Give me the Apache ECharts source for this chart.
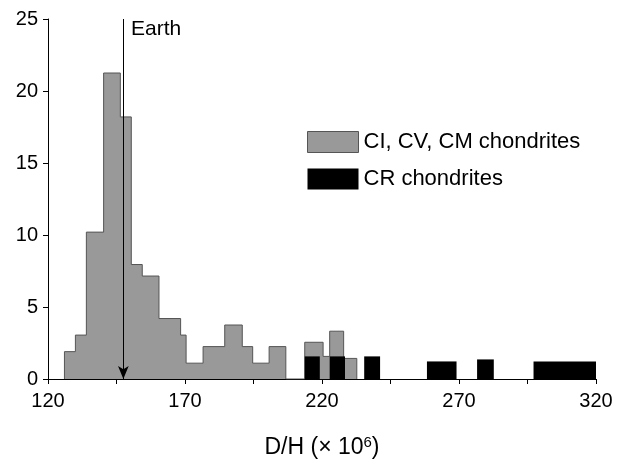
<!DOCTYPE html>
<html>
<head>
<meta charset="utf-8">
<script src="https://cdn.jsdelivr.net/npm/echarts@6/dist/echarts.min.js"></script>
<style>html,body{margin:0;padding:0;background:#fff}#c{width:623px;height:464px}</style>
</head>
<body>
<div id="c"></div>
<script>
// Gray histogram (CI, CV, CM chondrites): bin edges and heights
const grayEdgesA = [126, 130, 134, 140.3, 146.4, 150.4, 154.4, 160.5, 168.4, 170.4, 176.6, 184.5, 190.9, 194.7, 200.7, 206.8];
const grayHeightsA = [1.9, 3.05, 10.2, 21.25, 18.2, 7.95, 7.15, 4.2, 3.05, 1.1, 2.25, 3.75, 2.25, 1.1, 2.25];
const grayEdgesB = [213.7, 220.4, 222.8, 227.9, 232.7];
const grayHeightsB = [2.55, 1.57, 3.32, 1.43];
// Black histogram (CR chondrites): [start, end, height]
const crStarts = [213.7, 222.8, 235.4, 258.3, 276.6, 297.2];
const crEnds = [219.2, 228.4, 241.2, 269.1, 282.7, 320];
const crHeights = [1.57, 1.57, 1.57, 1.22, 1.36, 1.22];
const earthDH = 147.5;
const xTicks = [120, 170, 220, 270, 320];
const yTicks = [0, 5, 10, 15, 20, 25];

const FONT = '"Liberation Sans", Arial, Helvetica, sans-serif';

function outline(groups) {
  const pts = [];
  groups.forEach(([edges, heights]) => {
    pts.push([edges[0], 0]);
    heights.forEach((h, i) => {
      pts.push([edges[i], h]);
      pts.push([edges[i + 1], h]);
    });
    pts.push([edges[edges.length - 1], 0]);
  });
  return pts;
}
const grayData = outline([[grayEdgesA, grayHeightsA], [grayEdgesB, grayHeightsB]]);
const crData = crStarts.map((s, i) => [s, crEnds[i], crHeights[i]]);

const chart = echarts.init(document.getElementById('c'));
chart.setOption({
  animation: false,
  backgroundColor: '#fff',
  grid: { left: 48, right: 27, top: 19, bottom: 84 },
  legend: {
    orient: 'vertical', left: 302, top: 126,
    itemWidth: 51, itemHeight: 21, itemGap: 15,
    textStyle: { fontSize: 22, color: '#000', fontFamily: FONT },
    data: [
      { name: 'CI, CV, CM chondrites', icon: 'rect', itemStyle: { color: '#999999', borderColor: '#555555', borderWidth: 1 } },
      { name: 'CR chondrites', icon: 'rect', itemStyle: { color: '#000000', borderWidth: 0 } }
    ]
  },
  xAxis: {
    type: 'value', min: 120, max: 320, interval: 25,
    axisLine: { lineStyle: { color: '#000', width: 1 } },
    axisTick: { length: 5, lineStyle: { color: '#000' } },
    splitLine: { show: false },
    axisLabel: {
      margin: 12, fontSize: 20, color: '#000', fontFamily: FONT,
      formatter: v => xTicks.indexOf(v) >= 0 ? String(v) : ''
    },
    name: 'D/H (× 10{sup|6})',
    nameLocation: 'middle', nameGap: 56,
    nameTextStyle: {
      fontSize: 23, color: '#000', fontFamily: FONT,
      rich: { sup: { fontSize: 15, color: '#000', fontFamily: FONT, verticalAlign: 'top', padding: [0, 0, 10, 0] } }
    }
  },
  yAxis: {
    type: 'value', min: 0, max: 25, interval: 5,
    axisLine: { show: true, lineStyle: { color: '#000', width: 1 } },
    axisTick: { show: true, length: 5, lineStyle: { color: '#000' } },
    splitLine: { show: false },
    axisLabel: {
      margin: 10, fontSize: 20, color: '#000', fontFamily: FONT,
      formatter: v => yTicks.indexOf(v) >= 0 ? String(v) : ''
    }
  },
  graphic: [{
    type: 'text', left: 131, top: 19, z: 100,
    style: { text: 'Earth', fontSize: 21, fill: '#000', fontFamily: FONT }
  }],
  series: [
    {
      name: 'CI, CV, CM chondrites',
      type: 'line', data: grayData, symbol: 'none', z: 2,
      lineStyle: { color: '#555555', width: 1 },
      itemStyle: { color: '#999999' },
      areaStyle: { color: '#999999', opacity: 1 },
      markLine: {
        silent: true, symbol: ['none', 'arrow'], symbolSize: [8, 13], z: 10,
        label: { show: false },
        lineStyle: { color: '#000', width: 1, type: 'solid' },
        data: [[{ coord: [earthDH, 25] }, { coord: [earthDH, 0] }]]
      }
    },
    {
      name: 'CR chondrites',
      type: 'custom', z: 3,
      itemStyle: { color: '#000' },
      encode: { x: [0, 1], y: 2 },
      data: crData,
      renderItem: function (params, api) {
        const p0 = api.coord([api.value(0), api.value(2)]);
        const p1 = api.coord([api.value(1), 0]);
        return {
          type: 'rect',
          shape: { x: p0[0], y: p0[1], width: p1[0] - p0[0], height: p1[1] - p0[1] },
          style: { fill: '#000' }
        };
      }
    }
  ]
});
</script>
</body>
</html>
